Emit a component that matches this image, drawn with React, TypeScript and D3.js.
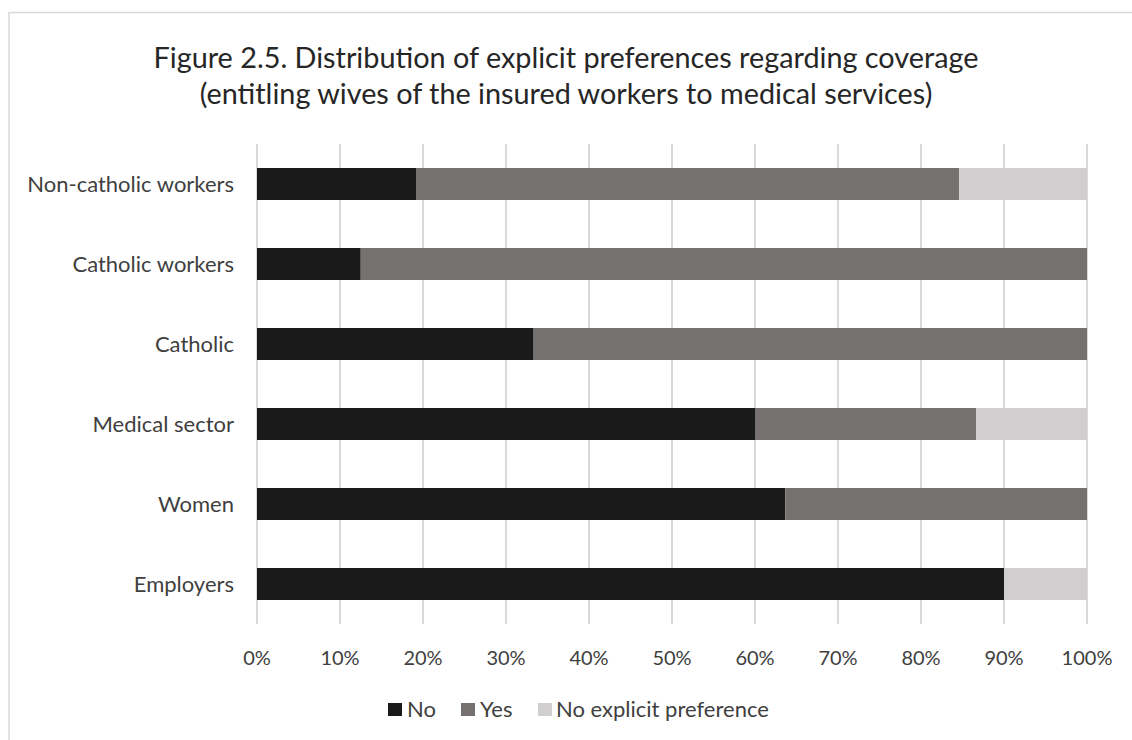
import React from "react";
import * as d3 from "d3";

// Share of explicit preferences per group (percent of each group)
const categories = [
  "Non-catholic workers",
  "Catholic workers",
  "Catholic",
  "Medical sector",
  "Women",
  "Employers",
];
const noValues = [19.23, 12.5, 33.33, 60.0, 63.64, 90.0];
const yesValues = [65.38, 87.5, 66.67, 26.67, 36.36, 0];
const noPrefValues = [15.39, 0, 0, 13.33, 0, 10.0];

const seriesNames = ["No", "Yes", "No explicit preference"];
const seriesColors = ["#1a1a1a", "#767171", "#d0cece"];
const tickValues = [0, 10, 20, 30, 40, 50, 60, 70, 80, 90, 100];

const titleLines = [
  "Figure 2.5. Distribution of explicit preferences regarding coverage",
  "(entitling wives of the insured workers to medical services)",
];

const W = 1132;
const H = 740;
const FONT = "Lato, 'Open Sans', sans-serif";
const TEXT = "#404040";

export default function App() {
  const x = d3.scaleLinear().domain([0, 100]).range([257, 1087]);
  const y = d3
    .scaleBand<string>()
    .domain(categories)
    .range([144, 624])
    .paddingInner(0.6)
    .paddingOuter(0.3);

  const rows = categories.map((c, i) => ({
    cat: c,
    No: noValues[i],
    Yes: yesValues[i],
    "No explicit preference": noPrefValues[i],
  }));
  const stacked = d3.stack<any>().keys(seriesNames)(rows);

  const legendItems = [
    { name: "No", sx: 388, tx: 407 },
    { name: "Yes", sx: 461, tx: 480 },
    { name: "No explicit preference", sx: 538, tx: 556 },
  ];

  return (
    <svg
      width={W}
      height={H}
      style={{ position: "absolute", left: 0, top: 0, background: "#fff" }}
      fontFamily={FONT}
    >
      <rect x={0} y={0} width={W} height={H} fill="#fff" />
      <rect
        x={9}
        y={12.5}
        width={W + 10}
        height={H + 10}
        fill="none"
        stroke="#d9d9d9"
        strokeWidth={1.5}
      />
      {titleLines.map((t, i) => (
        <text
          key={i}
          x={566}
          y={68 + i * 36}
          textAnchor="middle"
          fontSize={28.8}
          fill="#262626"
        >
          {t}
        </text>
      ))}
      {tickValues.map((v) => (
        <line
          key={"g" + v}
          x1={x(v)}
          x2={x(v)}
          y1={144}
          y2={624}
          stroke="#d9d9d9"
          strokeWidth={2}
        />
      ))}
      {stacked.map((s, si) =>
        s.map((d, i) => {
          const w = x(d[1]) - x(d[0]);
          if (w <= 0) return null;
          return (
            <rect
              key={si + "-" + i}
              x={x(d[0])}
              y={y(categories[i])}
              width={w}
              height={y.bandwidth()}
              fill={seriesColors[si]}
            />
          );
        })
      )}
      {categories.map((c) => (
        <text
          key={c}
          x={234}
          y={(y(c) as number) + y.bandwidth() / 2}
          dy="0.35em"
          textAnchor="end"
          fontSize={22}
          fill={TEXT}
        >
          {c}
        </text>
      ))}
      {tickValues.map((v) => (
        <text
          key={"t" + v}
          x={x(v)}
          y={665}
          textAnchor="middle"
          fontSize={20}
          fill={TEXT}
        >
          {v + "%"}
        </text>
      ))}
      {legendItems.map((l, i) => (
        <g key={l.name}>
          <rect x={l.sx} y={703} width={14} height={13} fill={seriesColors[i]} />
          <text x={l.tx} y={717} fontSize={22} fill={TEXT}>
            {l.name}
          </text>
        </g>
      ))}
    </svg>
  );
}
